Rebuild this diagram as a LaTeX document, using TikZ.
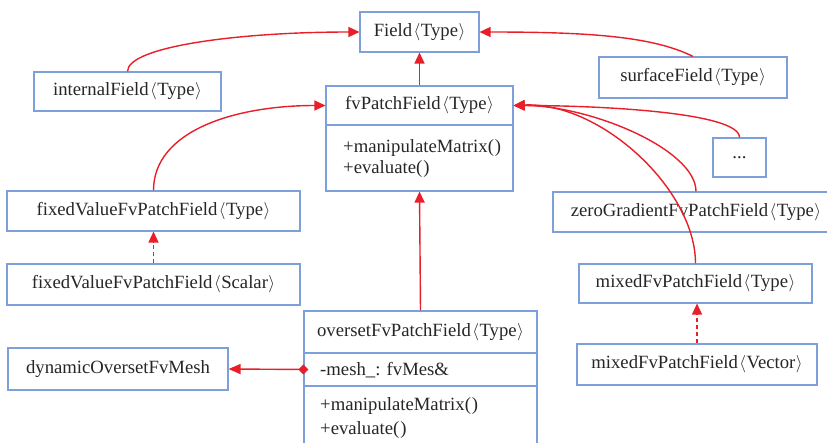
\documentclass[tikz,border=0pt]{standalone}
\usepackage{fontspec}
\setmainfont{Liberation Serif}
\usetikzlibrary{arrows.meta}
\definecolor{boxc}{RGB}{125,160,218}
\definecolor{arrc}{RGB}{232,30,40}
\newcommand{\lab}{\kern1.5pt$\langle$\kern0.5pt}
\newcommand{\rab}{\kern0.5pt$\rangle$}
\tikzset{
  cls/.style={draw=boxc, line width=1.1pt, rectangle, inner sep=0pt,
    font=\fontsize{18.7}{21}\selectfont, text=black!85},
  txt/.style={inner sep=0pt, anchor=west, font=\fontsize{18.7}{21}\selectfont, text=black!85},
  inh/.style={draw=arrc, line width=1.4pt, -{Triangle[length=11pt,width=10pt]}},
  real/.style={inh, dash pattern=on 4pt off 3pt},
}
\begin{document}
\begin{tikzpicture}[x=1pt,y=-1pt]
\useasboundingbox (0,0) rectangle (827,442);
\node[cls, minimum width=119pt, minimum height=40pt] (field) at (419.5,32) {Field\lab Type\rab};
\node[cls, minimum width=187pt, minimum height=39pt] (internal) at (127.5,91.5) {internalField\lab Type\rab};
\node[cls, minimum width=188pt, minimum height=41pt] (surface) at (693,77.5) {surfaceField\lab Type\rab};
\node[cls, minimum width=187pt, minimum height=39pt] (fvh) at (419.5,105.5) {fvPatchField\lab Type\rab};
\node[cls, minimum width=187pt, minimum height=66pt] (fvb) at (419.5,158) {};
\node[txt] (fvm1) at (343,148) {+manipulateMatrix(\kern1pt)};
\node[txt] (fvm2) at (343,169) {+evaluate(\kern1pt)};
\node[cls, minimum width=53pt, minimum height=39pt] (dots) at (739.5,157.5) {...};
\node[cls, minimum width=293pt, minimum height=40pt] (fixT) at (153.5,211) {fixedValueFvPatchField\lab Type\rab};
\node[cls, minimum width=293pt, minimum height=41pt] (fixS) at (153.5,284.5) {fixedValueFvPatchField\lab Scalar\rab};
\node[cls, minimum width=286pt, minimum height=40pt] (zero) at (696,212) {zeroGradientFvPatchField\lab Type\rab};
\node[cls, minimum width=233pt, minimum height=39pt] (mixT) at (695.5,283.5) {mixedFvPatchField\lab Type\rab};
\node[cls, minimum width=240pt, minimum height=41pt] (mixV) at (697,364.5) {mixedFvPatchField\lab Vector\rab};
\node[cls, minimum width=233pt, minimum height=42pt] (ovh) at (420.5,332) {oversetFvPatchField\lab Type\rab};
\node[cls, minimum width=233pt, minimum height=33pt] (ova) at (420.5,369.5) {};
\node[cls, minimum width=233pt, minimum height=63pt] (ovb) at (420.5,417.5) {};
\node[txt] (ovattr) at (320,370) {-mesh\_: fvMes\&};
\node[txt] (ovm1) at (320,406) {+manipulateMatrix(\kern1pt)};
\node[txt] (ovm2) at (320,430) {+evaluate(\kern1pt)};
\node[cls, minimum width=220pt, minimum height=42pt] (mesh) at (118,369) {dynamicOversetFvMesh};
% connectors
\draw[inh] (fvh.north) -- (field.south);
\draw[inh] (internal.north) .. controls +(0,-25) and +(-120,0) .. (field.west);
\draw[inh] (surface.north) .. controls +(-40,-20) and +(110,0) .. (field.east);
\draw[inh] (fixT.north) .. controls +(0,-60) and +(-90,0) .. (fvh.west);
\draw[inh] (dots.north) .. controls +(0,-25) and +(87,0) .. (fvh.east);
\draw[inh] (zero.north) .. controls +(0,-42) and +(77,0) .. (fvh.east);
\draw[inh] (mixT.north) .. controls +(0,-74) and +(87,-4) .. (fvh.east);
\draw[real] (fixS.north) -- (fixT.south);
\draw[real] (mixV.north) -- (mixV.north |- mixT.south);
\draw[inh] (ovh.north) -- (fvb.south);
\draw[draw=arrc, line width=1.4pt, {Diamond[length=10pt,width=10pt]}-{Triangle[length=12pt,width=10pt]}] ([xshift=5pt]ova.west) -- (mesh.east);
\end{tikzpicture}
\end{document}
